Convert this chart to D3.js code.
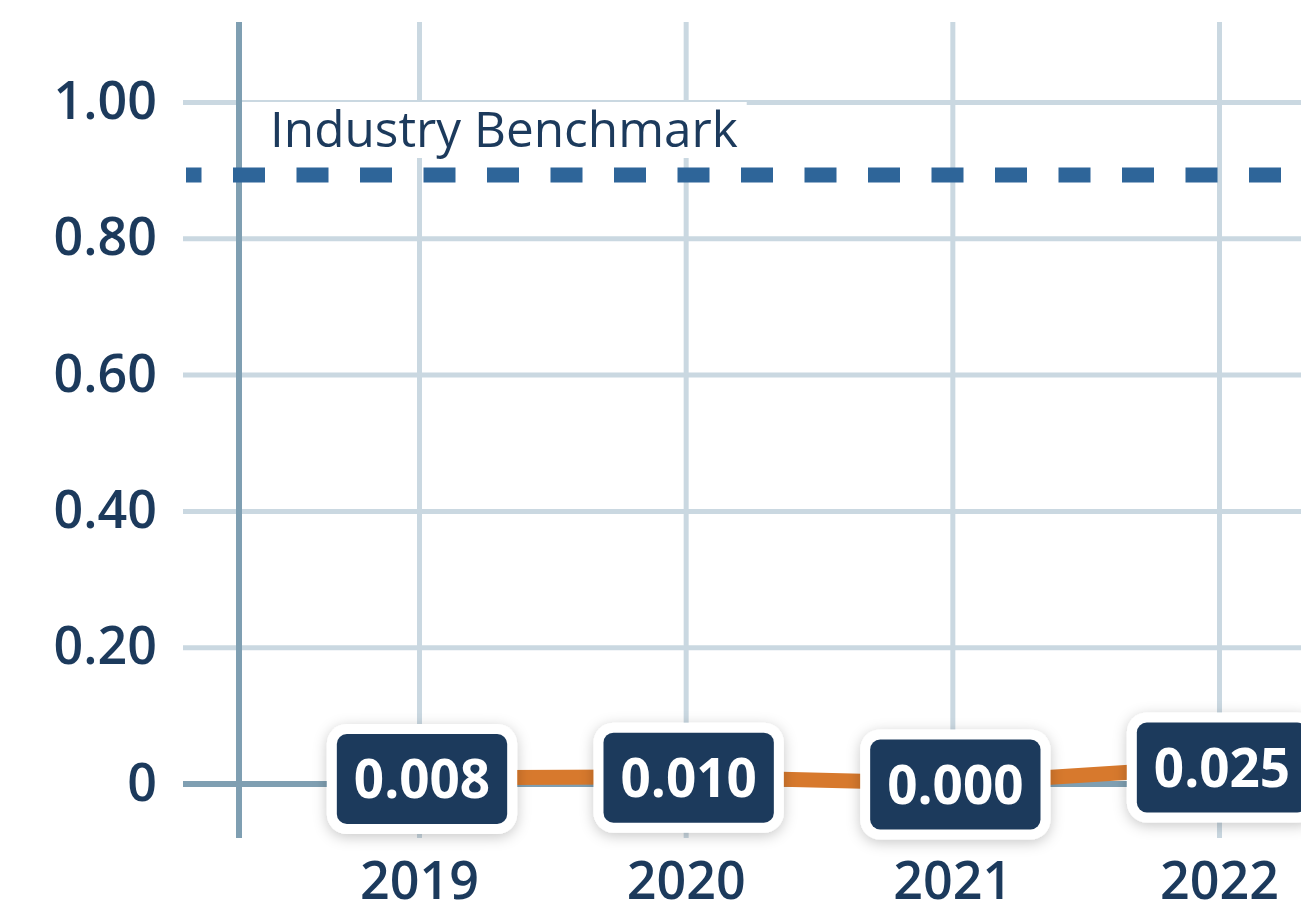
<!DOCTYPE html>
<html>
<head>
<meta charset="utf-8">
<script src="https://cdn.jsdelivr.net/npm/d3@7"></script>
<style>
    html, body { margin: 0; padding: 0; background: #ffffff; }
    svg { display: block; font-family: "Open Sans", "Noto Sans", sans-serif; }
</style>
</head>
<body>
<div id="chart"></div>
<script>
// Chart data
const years = [2019, 2020, 2021, 2022];
const values = [0.008, 0.010, 0.000, 0.025];
const valueLabels = ["0.008", "0.010", "0.000", "0.025"];
const yTicks = [0, 0.2, 0.4, 0.6, 0.8, 1.0];
const yTickLabels = ["0", "0.20", "0.40", "0.60", "0.80", "1.00"];
const benchmarkValue = 0.893;
const benchmarkLabel = "Industry Benchmark";

// Colours
const navy = "#1c3a5c";
const gridColor = "#cad8e1";
const axisColor = "#7f9fb2";
const benchColor = "#2e6599";
const lineColor = "#d7792d";
const fontFamily = '"Open Sans", "Noto Sans", sans-serif';

// Layout
const width = 1301;
const height = 905;
const gridLeft = 183;
const plotLeft = 239;
const plotTop = 22;
const plotBottom = 838;

const svg = d3.select("#chart")
    .append("svg")
    .attr("width", width)
    .attr("height", height);

// Soft shadow for the value badges
const defs = svg.append("defs");
defs.append("filter")
    .attr("id", "badgeShadow")
    .attr("x", "-30%").attr("y", "-40%")
    .attr("width", "160%").attr("height", "180%")
    .append("feDropShadow")
    .attr("dx", 0).attr("dy", 3)
    .attr("stdDeviation", 7)
    .attr("flood-color", "#000")
    .attr("flood-opacity", 0.22);

// Scales
const x = d3.scaleLinear().domain([2019, 2022]).range([419, 1219]);
const y = d3.scaleLinear().domain([0, 1]).range([783.5, 102]);

// Vertical grid + year labels
const xAxis = svg.append("g")
    .attr("transform", `translate(0,${plotBottom})`)
    .call(d3.axisBottom(x)
        .tickValues(years)
        .tickFormat(d3.format("d"))
        .tickSize(-(plotBottom - plotTop))
        .tickPadding(24));
xAxis.attr("font-family", fontFamily);
xAxis.select(".domain").remove();
xAxis.selectAll(".tick line")
    .attr("stroke", gridColor)
    .attr("stroke-width", 5);
xAxis.selectAll(".tick text")
    .attr("fill", navy)
    .attr("font-size", 52)
    .attr("font-weight", 600);

// Horizontal grid + value labels
const yAxis = svg.append("g")
    .attr("transform", `translate(${gridLeft},0)`)
    .call(d3.axisLeft(y)
        .tickValues(yTicks)
        .tickFormat((d, i) => yTickLabels[i])
        .tickSize(-(width - gridLeft))
        .tickPadding(26));
yAxis.attr("font-family", fontFamily);
yAxis.select(".domain").remove();
yAxis.selectAll(".tick line")
    .attr("stroke", d => d === 0 ? axisColor : gridColor)
    .attr("stroke-width", d => d === 0 ? 6 : 5);
yAxis.selectAll(".tick text")
    .attr("fill", navy)
    .attr("font-size", 52)
    .attr("font-weight", 600);
// zero line sits on top of the vertical grid
yAxis.selectAll(".tick").filter(d => d === 0).raise();
yAxis.raise();

// Left axis line
svg.append("line")
    .attr("x1", plotLeft).attr("x2", plotLeft)
    .attr("y1", plotTop).attr("y2", plotBottom)
    .attr("stroke", axisColor)
    .attr("stroke-width", 6);

// Benchmark line
svg.append("line")
    .attr("x1", 186).attr("x2", width)
    .attr("y1", y(benchmarkValue)).attr("y2", y(benchmarkValue))
    .attr("stroke", benchColor)
    .attr("stroke-width", 15)
    .attr("stroke-dasharray", "32,31.5")
    .attr("stroke-dashoffset", 16.5);

const benchG = svg.append("g");
const benchBg = benchG.append("rect").attr("fill", "#fff");
const benchText = benchG.append("text")
    .attr("x", 270)
    .attr("y", 147)
    .attr("fill", navy)
    .attr("font-size", 49.5)
    .attr("font-weight", 400)
    .text(benchmarkLabel);
const bb = benchText.node().getBBox();
benchBg
    .attr("x", plotLeft + 3)
    .attr("y", 102)
    .attr("width", bb.x + bb.width + 9 - (plotLeft + 3))
    .attr("height", 56);

// Data line
const points = years.map((yr, i) => ({ year: yr, value: values[i], label: valueLabels[i] }));
const line = d3.line()
    .x(d => x(d.year))
    .y(d => y(d.value));

svg.append("path")
    .datum(points)
    .attr("fill", "none")
    .attr("stroke", lineColor)
    .attr("stroke-width", 15)
    .attr("d", line);

// Value badges
const badge = svg.append("g")
    .selectAll("g")
    .data(points)
    .enter().append("g")
    .attr("transform", d => `translate(${x(d.year) + 3},${y(d.value) + 1})`);

const outer = badge.append("rect").attr("fill", "#fff").attr("filter", "url(#badgeShadow)");
const inner = badge.append("rect").attr("fill", navy);
const labels = badge.append("text")
    .attr("text-anchor", "middle")
    .attr("dy", "0.36em")
    .attr("fill", "#fff")
    .attr("font-size", 53)
    .attr("font-weight", 700)
    .text(d => d.label);

labels.each(function(d) {
    const b = this.getBBox();
    d.w = b.width + 34;
    d.h = 90;
});
inner
    .attr("x", d => -d.w / 2).attr("y", d => -d.h / 2)
    .attr("width", d => d.w).attr("height", d => d.h)
    .attr("rx", 10);
outer
    .attr("x", d => -d.w / 2 - 10).attr("y", d => -d.h / 2 - 10)
    .attr("width", d => d.w + 20).attr("height", d => d.h + 20)
    .attr("rx", 20);
</script>
</body>
</html>
